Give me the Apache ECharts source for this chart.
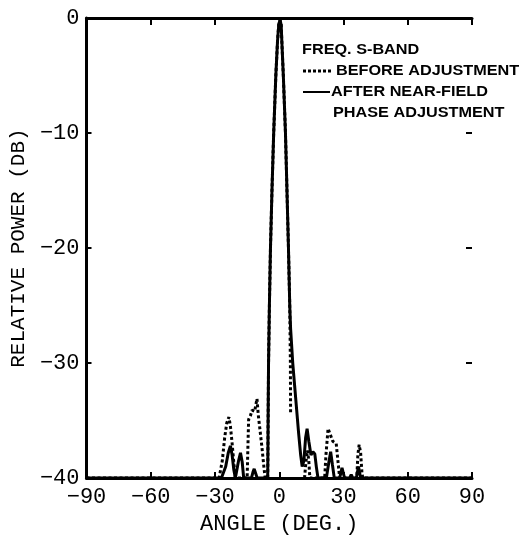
<!DOCTYPE html>
<html>
<head>
<meta charset="utf-8">
<script src="https://cdn.jsdelivr.net/npm/echarts@6/dist/echarts.min.js"></script>
<style>html,body{margin:0;padding:0;background:#fff;}#c{width:526px;height:540px;}</style>
</head>
<body>
<div id="c"></div>
<script>
var xTicks = [-90, -60, -30, 0, 30, 60, 90];
var yTicks = [-40, -30, -20, -10, 0];

var afterAngle = [-90, -27, -26.3, -25, -23.8, -22.8, -22, -21.2, -20.5, -20, -19, -18.1, -17.3, -16.6, -13, -12.3, -11.7, -11, -10.3, -5.4,
  -5.3, -5.2, -5.0, -4.6, -4.1, -3.4, -2.6, -1.6, -0.8, -0.2, 0.4, 0.9, 1.2, 1.9, 2.9, 3.6, 4.3, 4.9, 5.3, 6.3, 7.2, 8.1, 9.0, 10.0, 10.7,
  11.5, 12.3, 13.0, 13.8, 14.8, 15.7, 16.6, 17.3, 18.1, 22.0, 23.0, 24.0, 24.8, 25.7, 28.2, 29.3, 30.5, 32.8, 33.6, 34.4, 36.0, 37.0, 38.0, 90];
var afterPower = [-40, -40, -40, -39, -37.8, -37.2, -38, -39.3, -40, -40, -38.5, -37.8, -38.6, -40, -40, -39.5, -39.2, -39.6, -40, -40,
  -38, -35, -30, -25, -20, -15, -10, -5, -2, -0.5, -0.2, -0.6, -2, -5, -10, -15, -20, -25, -27, -30, -32, -34, -36, -38, -39,
  -38.5, -36.5, -35.7, -36.8, -38, -37.7, -37.9, -39, -40, -40, -38.8, -37.7, -38.8, -40, -40, -39.1, -40, -40, -39.7, -40, -40, -39, -40, -40];

var beforeAngle = [-90, -28.1, -27.3, -26.6, -25.5, -24.5, -23.5, -22.8, -22, -21.2, -20.5, -15, -14.6, -14.3, -13.5, -12.7, -11.5, -10.4, -9.8, -9.0, -8.1, -7.3, -6.6, -5.4,
  -5.3, -5.2, -5.0, -4.6, -4.1, -3.4, -2.6, -1.6, -0.8, -0.2, 0.4, 0.9, 1.2, 1.9, 2.9, 3.6, 4.3, 4.9, 5.2, 5.3, 8.0,
  11.8, 12.5, 13.2, 13.8, 14.3, 21.2, 21.8, 22.8, 23.8, 25.0, 26.6, 27.4, 28.2, 36.2, 36.7, 37.3, 38.0, 38.6, 39.0, 90];
var beforePower = [-40, -40, -39.2, -38.5, -36.5, -35.2, -34.7, -35.5, -37, -38.7, -40, -40, -37, -34.9, -34.6, -34.1, -34.2, -33.1, -34.5, -35.8, -37.3, -38.8, -40, -40,
  -38, -35, -30, -25, -20, -15, -10, -5, -2, -0.5, -0.2, -0.6, -2, -5, -10, -15, -20, -25, -30, -34.5, null,
  -40, -38.5, -37.6, -38.5, -40, -40, -38, -35.7, -36.2, -36.8, -37, -38.5, -40, -40, -38, -37.1, -37.8, -39.5, -40, -40];

function pairs(a, p) {
  return a.map(function (x, i) { return [x, p[i] === null ? '-' : p[i]]; });
}

var mono = 'Liberation Mono';
var legendFont = 'bold 14px "Liberation Sans", Arial, sans-serif';

var chart = echarts.init(document.getElementById('c'), null, {renderer: 'canvas'});
chart.setOption({
  animation: false,
  backgroundColor: '#fff',
  grid: {left: 83, right: 54, top: 18, bottom: 52, containLabel: false},
  xAxis: [{
    type: 'value', min: -90, max: 90, interval: 30, position: 'bottom',
    axisLine: {show: true, onZero: false, lineStyle: {color: '#000', width: 3}},
    axisTick: {show: true, inside: true, length: 6, lineStyle: {color: '#000', width: 2}},
    axisLabel: {show: true, color: '#000', fontFamily: mono, fontSize: 22, margin: 8,
      formatter: function (v) { return xTicks.indexOf(v) >= 0 ? String(v).replace('-', '\u2212') : ''; }},
    splitLine: {show: false},
    name: 'ANGLE (DEG.)', nameLocation: 'middle', nameGap: 33,
    nameTextStyle: {color: '#000', fontFamily: mono, fontSize: 22}
  }, {
    type: 'value', min: -90, max: 90, interval: 30, position: 'top',
    axisLine: {show: true, onZero: false, lineStyle: {color: '#000', width: 3}},
    axisTick: {show: true, inside: true, length: 7, lineStyle: {color: '#000', width: 2}},
    axisLabel: {show: false}, splitLine: {show: false}
  }],
  yAxis: [{
    type: 'value', min: -40, max: 0, interval: 10, position: 'left',
    axisLine: {show: true, onZero: false, lineStyle: {color: '#000', width: 3}},
    axisTick: {show: true, inside: true, length: 5, lineStyle: {color: '#000', width: 2}},
    axisLabel: {show: true, color: '#000', fontFamily: mono, fontSize: 22, margin: 7,
      formatter: function (v) { return yTicks.indexOf(v) >= 0 ? String(v).replace('-', '\u2212') : ''; }},
    splitLine: {show: false},
    name: 'RELATIVE POWER (DB)', nameLocation: 'middle', nameGap: 53, nameRotate: 90,
    nameTextStyle: {color: '#000', fontFamily: mono, fontSize: 21}
  }, {
    type: 'value', min: -40, max: 0, interval: 10, position: 'right',
    axisLine: {show: false, onZero: false},
    axisTick: {show: true, inside: true, length: 6, lineStyle: {color: '#000', width: 2}},
    axisLabel: {show: false}, splitLine: {show: false}
  }],
  series: [{
    name: 'BEFORE ADJUSTMENT', type: 'line', xAxisIndex: 0, yAxisIndex: 0,
    data: pairs(beforeAngle, beforePower), showSymbol: false, symbol: 'none',
    connectNulls: false,
    lineStyle: {color: '#000', width: 3, type: [3, 2.5]}, z: 2
  }, {
    name: 'AFTER NEAR-FIELD PHASE ADJUSTMENT', type: 'line', xAxisIndex: 0, yAxisIndex: 0,
    data: pairs(afterAngle, afterPower), showSymbol: false, symbol: 'none',
    lineStyle: {color: '#000', width: 3, type: 'solid'}, z: 3
  }],
  graphic: [
    {type: 'text', left: 302, top: 43, style: {text: 'FREQ. S-BAND', font: legendFont, fill: '#000'}, scaleX: 1.16, originX: 302},
    {type: 'line', shape: {x1: 303, y1: 71, x2: 333, y2: 71}, style: {stroke: '#000', lineWidth: 3, lineDash: [3, 2]}},
    {type: 'text', left: 336, top: 64, style: {text: 'BEFORE ADJUSTMENT', font: legendFont, fill: '#000'}, scaleX: 1.16, originX: 336},
    {type: 'line', shape: {x1: 303, y1: 92, x2: 330, y2: 92}, style: {stroke: '#000', lineWidth: 2}},
    {type: 'text', left: 331, top: 85, style: {text: 'AFTER NEAR-FIELD', font: legendFont, fill: '#000'}, scaleX: 1.16, originX: 331},
    {type: 'text', left: 333, top: 106, style: {text: 'PHASE ADJUSTMENT', font: legendFont, fill: '#000'}, scaleX: 1.16, originX: 333}
  ]
});
</script>
</body>
</html>
